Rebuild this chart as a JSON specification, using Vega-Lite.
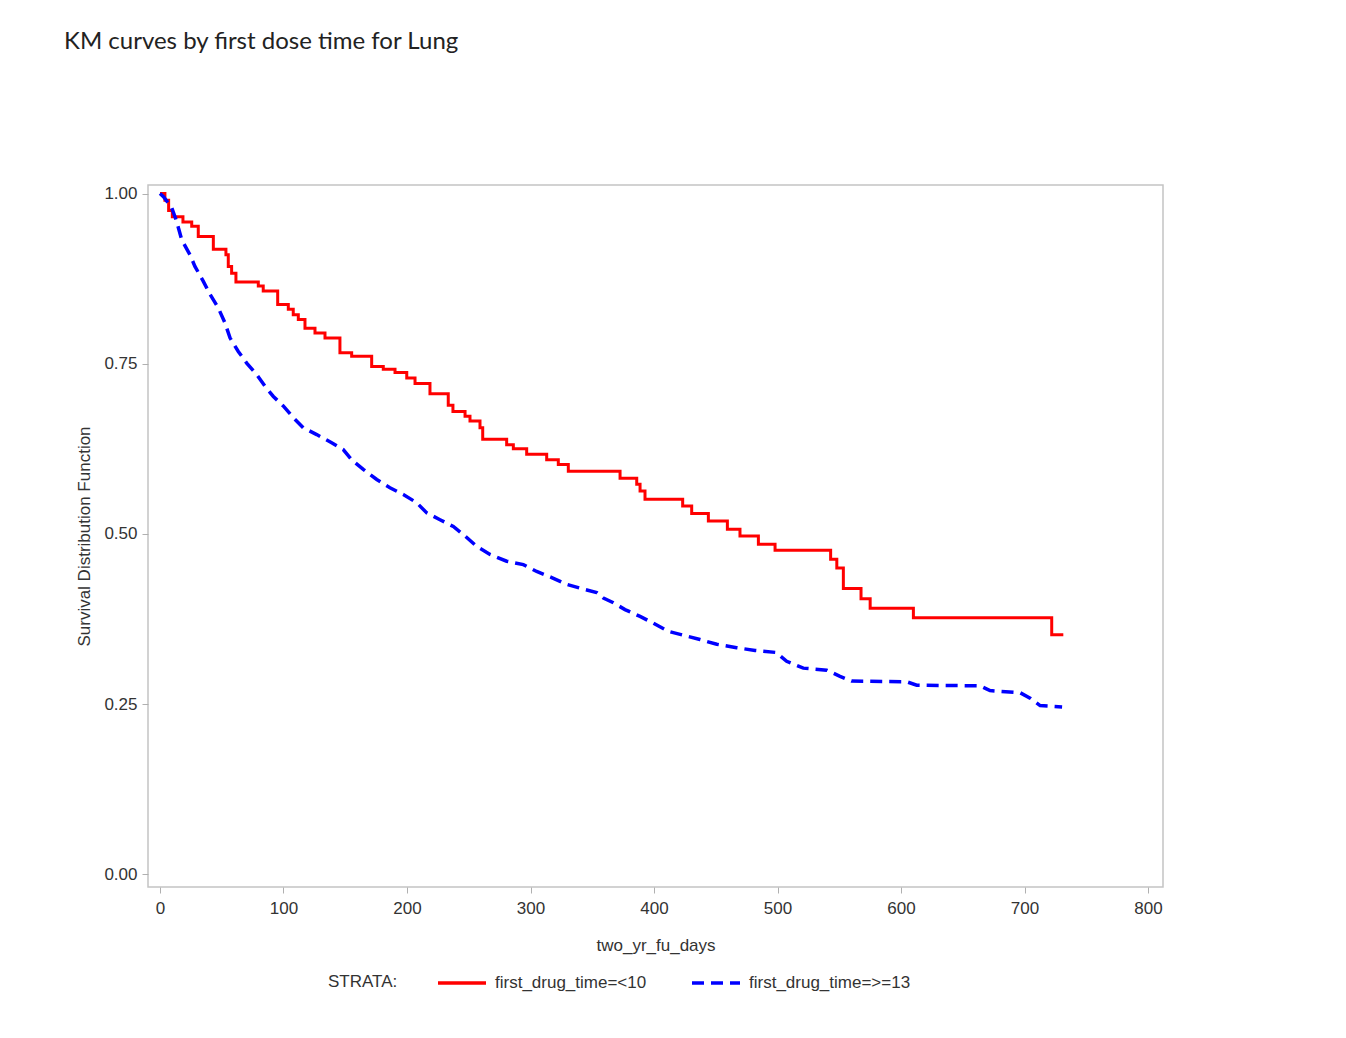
{
  "$schema": "https://vega.github.io/schema/vega-lite/v6.json",
  "width": 1015,
  "height": 702,
  "autosize": {"type": "none"},
  "padding": {"left": 148, "top": 185, "right": 183, "bottom": 151},
  "background": "white",
  "title": {
    "text": "KM curves by first dose time for Lung",
    "anchor": "start",
    "frame": "group",
    "dx": -84,
    "offset": 131,
    "font": "Lato",
    "fontSize": 24,
    "fontWeight": "normal",
    "color": "#222222"
  },
  "config": {
    "view": {"stroke": "#c4c4c4", "strokeWidth": 1.5},
    "axis": {
      "domain": false,
      "grid": false,
      "tickColor": "#b0b0b0",
      "tickSize": 6,
      "labelFont": "Liberation Sans",
      "labelFontSize": 17,
      "labelColor": "#333333",
      "titleFont": "Liberation Sans",
      "titleFontSize": 17,
      "titleFontWeight": "normal",
      "titleColor": "#333333"
    },
    "legend": {
      "labelFont": "Liberation Sans",
      "labelFontSize": 17,
      "labelColor": "#333333",
      "labelLimit": 400,
      "titleFont": "Liberation Sans",
      "titleFontSize": 17,
      "titleFontWeight": "normal",
      "titleColor": "#333333"
    }
  },
  "data": {
    "values": [
      {"strata": "first_drug_time=<10", "day": 0, "surv": 1.0},
      {"strata": "first_drug_time=<10", "day": 4, "surv": 0.99},
      {"strata": "first_drug_time=<10", "day": 7, "surv": 0.975},
      {"strata": "first_drug_time=<10", "day": 10, "surv": 0.966},
      {"strata": "first_drug_time=<10", "day": 18.6, "surv": 0.958},
      {"strata": "first_drug_time=<10", "day": 25.7, "surv": 0.952},
      {"strata": "first_drug_time=<10", "day": 31, "surv": 0.937},
      {"strata": "first_drug_time=<10", "day": 43.2, "surv": 0.918},
      {"strata": "first_drug_time=<10", "day": 53.4, "surv": 0.91},
      {"strata": "first_drug_time=<10", "day": 55.3, "surv": 0.893},
      {"strata": "first_drug_time=<10", "day": 58, "surv": 0.883},
      {"strata": "first_drug_time=<10", "day": 61.5, "surv": 0.87},
      {"strata": "first_drug_time=<10", "day": 79.6, "surv": 0.864},
      {"strata": "first_drug_time=<10", "day": 83.6, "surv": 0.857},
      {"strata": "first_drug_time=<10", "day": 95.3, "surv": 0.837},
      {"strata": "first_drug_time=<10", "day": 103.9, "surv": 0.83},
      {"strata": "first_drug_time=<10", "day": 107.9, "surv": 0.822},
      {"strata": "first_drug_time=<10", "day": 112, "surv": 0.815},
      {"strata": "first_drug_time=<10", "day": 117.4, "surv": 0.802},
      {"strata": "first_drug_time=<10", "day": 125.5, "surv": 0.795},
      {"strata": "first_drug_time=<10", "day": 133.6, "surv": 0.788},
      {"strata": "first_drug_time=<10", "day": 145.7, "surv": 0.766},
      {"strata": "first_drug_time=<10", "day": 155.2, "surv": 0.761},
      {"strata": "first_drug_time=<10", "day": 171.4, "surv": 0.746},
      {"strata": "first_drug_time=<10", "day": 180.8, "surv": 0.742},
      {"strata": "first_drug_time=<10", "day": 190.3, "surv": 0.737},
      {"strata": "first_drug_time=<10", "day": 199.8, "surv": 0.729},
      {"strata": "first_drug_time=<10", "day": 206.5, "surv": 0.721},
      {"strata": "first_drug_time=<10", "day": 218.6, "surv": 0.706},
      {"strata": "first_drug_time=<10", "day": 233.4, "surv": 0.689},
      {"strata": "first_drug_time=<10", "day": 237.2, "surv": 0.68},
      {"strata": "first_drug_time=<10", "day": 247, "surv": 0.673},
      {"strata": "first_drug_time=<10", "day": 251, "surv": 0.666},
      {"strata": "first_drug_time=<10", "day": 259.1, "surv": 0.656},
      {"strata": "first_drug_time=<10", "day": 261.3, "surv": 0.639},
      {"strata": "first_drug_time=<10", "day": 280.7, "surv": 0.631},
      {"strata": "first_drug_time=<10", "day": 286.1, "surv": 0.625},
      {"strata": "first_drug_time=<10", "day": 296.9, "surv": 0.617},
      {"strata": "first_drug_time=<10", "day": 313.1, "surv": 0.609},
      {"strata": "first_drug_time=<10", "day": 322.5, "surv": 0.602},
      {"strata": "first_drug_time=<10", "day": 330.6, "surv": 0.592},
      {"strata": "first_drug_time=<10", "day": 372.5, "surv": 0.582},
      {"strata": "first_drug_time=<10", "day": 386, "surv": 0.573},
      {"strata": "first_drug_time=<10", "day": 388.7, "surv": 0.563},
      {"strata": "first_drug_time=<10", "day": 392.7, "surv": 0.551},
      {"strata": "first_drug_time=<10", "day": 423.2, "surv": 0.541},
      {"strata": "first_drug_time=<10", "day": 430.5, "surv": 0.53},
      {"strata": "first_drug_time=<10", "day": 444, "surv": 0.519},
      {"strata": "first_drug_time=<10", "day": 459.4, "surv": 0.507},
      {"strata": "first_drug_time=<10", "day": 469.6, "surv": 0.497},
      {"strata": "first_drug_time=<10", "day": 484.5, "surv": 0.485},
      {"strata": "first_drug_time=<10", "day": 498, "surv": 0.476},
      {"strata": "first_drug_time=<10", "day": 543, "surv": 0.463},
      {"strata": "first_drug_time=<10", "day": 548, "surv": 0.45},
      {"strata": "first_drug_time=<10", "day": 553.3, "surv": 0.42},
      {"strata": "first_drug_time=<10", "day": 567.6, "surv": 0.405},
      {"strata": "first_drug_time=<10", "day": 575, "surv": 0.391},
      {"strata": "first_drug_time=<10", "day": 610, "surv": 0.377},
      {"strata": "first_drug_time=<10", "day": 722, "surv": 0.352},
      {"strata": "first_drug_time=<10", "day": 731.4, "surv": 0.352},
      {"strata": "first_drug_time=>=13", "day": 0, "surv": 1.0},
      {"strata": "first_drug_time=>=13", "day": 3, "surv": 0.995},
      {"strata": "first_drug_time=>=13", "day": 9.5, "surv": 0.979},
      {"strata": "first_drug_time=>=13", "day": 13.5, "surv": 0.959},
      {"strata": "first_drug_time=>=13", "day": 17.6, "surv": 0.932},
      {"strata": "first_drug_time=>=13", "day": 24.3, "surv": 0.91},
      {"strata": "first_drug_time=>=13", "day": 28.3, "surv": 0.893},
      {"strata": "first_drug_time=>=13", "day": 35.1, "surv": 0.871},
      {"strata": "first_drug_time=>=13", "day": 40.5, "surv": 0.852},
      {"strata": "first_drug_time=>=13", "day": 47.2, "surv": 0.832},
      {"strata": "first_drug_time=>=13", "day": 52.6, "surv": 0.81},
      {"strata": "first_drug_time=>=13", "day": 56.7, "surv": 0.788},
      {"strata": "first_drug_time=>=13", "day": 63.4, "surv": 0.768},
      {"strata": "first_drug_time=>=13", "day": 70.2, "surv": 0.751},
      {"strata": "first_drug_time=>=13", "day": 78.3, "surv": 0.734},
      {"strata": "first_drug_time=>=13", "day": 85, "surv": 0.717},
      {"strata": "first_drug_time=>=13", "day": 91.8, "surv": 0.702},
      {"strata": "first_drug_time=>=13", "day": 99.8, "surv": 0.688},
      {"strata": "first_drug_time=>=13", "day": 107.9, "surv": 0.671},
      {"strata": "first_drug_time=>=13", "day": 116, "surv": 0.656},
      {"strata": "first_drug_time=>=13", "day": 126.9, "surv": 0.646},
      {"strata": "first_drug_time=>=13", "day": 139, "surv": 0.634},
      {"strata": "first_drug_time=>=13", "day": 148.4, "surv": 0.624},
      {"strata": "first_drug_time=>=13", "day": 155.2, "surv": 0.609},
      {"strata": "first_drug_time=>=13", "day": 164.6, "surv": 0.595},
      {"strata": "first_drug_time=>=13", "day": 175.5, "surv": 0.58},
      {"strata": "first_drug_time=>=13", "day": 186.2, "surv": 0.568},
      {"strata": "first_drug_time=>=13", "day": 197, "surv": 0.558},
      {"strata": "first_drug_time=>=13", "day": 207.8, "surv": 0.546},
      {"strata": "first_drug_time=>=13", "day": 216, "surv": 0.531},
      {"strata": "first_drug_time=>=13", "day": 226.7, "surv": 0.521},
      {"strata": "first_drug_time=>=13", "day": 237.5, "surv": 0.511},
      {"strata": "first_drug_time=>=13", "day": 247, "surv": 0.497},
      {"strata": "first_drug_time=>=13", "day": 256.4, "surv": 0.482},
      {"strata": "first_drug_time=>=13", "day": 267.2, "surv": 0.47},
      {"strata": "first_drug_time=>=13", "day": 280.7, "surv": 0.46},
      {"strata": "first_drug_time=>=13", "day": 294.2, "surv": 0.455},
      {"strata": "first_drug_time=>=13", "day": 305, "surv": 0.445},
      {"strata": "first_drug_time=>=13", "day": 317.2, "surv": 0.436},
      {"strata": "first_drug_time=>=13", "day": 329.3, "surv": 0.426},
      {"strata": "first_drug_time=>=13", "day": 342.8, "surv": 0.419},
      {"strata": "first_drug_time=>=13", "day": 353.6, "surv": 0.414},
      {"strata": "first_drug_time=>=13", "day": 359, "surv": 0.406},
      {"strata": "first_drug_time=>=13", "day": 367.1, "surv": 0.399},
      {"strata": "first_drug_time=>=13", "day": 376.5, "surv": 0.389},
      {"strata": "first_drug_time=>=13", "day": 388.7, "surv": 0.379},
      {"strata": "first_drug_time=>=13", "day": 399.4, "surv": 0.369},
      {"strata": "first_drug_time=>=13", "day": 411.6, "surv": 0.357},
      {"strata": "first_drug_time=>=13", "day": 426.5, "surv": 0.35},
      {"strata": "first_drug_time=>=13", "day": 437.2, "surv": 0.345},
      {"strata": "first_drug_time=>=13", "day": 450.8, "surv": 0.338},
      {"strata": "first_drug_time=>=13", "day": 466.9, "surv": 0.333},
      {"strata": "first_drug_time=>=13", "day": 481.8, "surv": 0.329},
      {"strata": "first_drug_time=>=13", "day": 499, "surv": 0.326},
      {"strata": "first_drug_time=>=13", "day": 507.4, "surv": 0.313},
      {"strata": "first_drug_time=>=13", "day": 520.9, "surv": 0.303},
      {"strata": "first_drug_time=>=13", "day": 539.8, "surv": 0.3},
      {"strata": "first_drug_time=>=13", "day": 550.6, "surv": 0.291},
      {"strata": "first_drug_time=>=13", "day": 560, "surv": 0.284},
      {"strata": "first_drug_time=>=13", "day": 604.6, "surv": 0.283},
      {"strata": "first_drug_time=>=13", "day": 612.7, "surv": 0.278},
      {"strata": "first_drug_time=>=13", "day": 664, "surv": 0.277},
      {"strata": "first_drug_time=>=13", "day": 672, "surv": 0.27},
      {"strata": "first_drug_time=>=13", "day": 696.4, "surv": 0.267},
      {"strata": "first_drug_time=>=13", "day": 704.5, "surv": 0.259},
      {"strata": "first_drug_time=>=13", "day": 712.6, "surv": 0.248},
      {"strata": "first_drug_time=>=13", "day": 730.4, "surv": 0.246}
    ]
  },
  "encoding": {
    "x": {
      "field": "day",
      "type": "quantitative",
      "scale": {"domain": [-9.7, 812.1], "nice": false, "zero": false},
      "axis": {"values": [0, 100, 200, 300, 400, 500, 600, 700, 800], "title": "two_yr_fu_days", "labelPadding": 7, "titlePadding": 21}
    },
    "y": {
      "field": "surv",
      "type": "quantitative",
      "scale": {"domain": [-0.0184, 1.0125], "nice": false, "zero": false},
      "axis": {"values": [0, 0.25, 0.5, 0.75, 1], "format": ".2f", "title": "Survival Distribution Function", "labelPadding": 5, "titlePadding": 10}
    },
    "color": {
      "field": "strata",
      "type": "nominal",
      "scale": {"domain": ["first_drug_time=<10", "first_drug_time=>=13"], "range": ["#ff0000", "#0000ff"]},
      "legend": {
        "title": "STRATA:",
        "orient": "none",
        "legendX": 180,
        "legendY": 772,
        "direction": "horizontal",
        "titleOrient": "left",
        "titleAnchor": "middle",
        "titleBaseline": "top",
        "titlePadding": 38,
        "symbolType": "stroke",
        "symbolSize": 2304,
        "symbolStrokeWidth": 3.5,
        "labelOffset": 7,
        "columnPadding": 38
      }
    },
    "strokeDash": {
      "field": "strata",
      "type": "nominal",
      "scale": {"domain": ["first_drug_time=<10", "first_drug_time=>=13"], "range": [[1, 0], [12, 7]]},
      "legend": {
        "title": "STRATA:",
        "orient": "none",
        "legendX": 180,
        "legendY": 772,
        "direction": "horizontal",
        "titleOrient": "left",
        "titleAnchor": "middle",
        "titleBaseline": "top",
        "titlePadding": 38,
        "symbolType": "stroke",
        "symbolSize": 2304,
        "symbolStrokeWidth": 3.5,
        "labelOffset": 7,
        "columnPadding": 38
      }
    }
  },
  "layer": [
    {
      "transform": [{"filter": "datum.strata === 'first_drug_time=<10'"}],
      "mark": {"type": "line", "interpolate": "step-after", "strokeWidth": 3}
    },
    {
      "transform": [{"filter": "datum.strata === 'first_drug_time=>=13'"}],
      "mark": {"type": "line", "interpolate": "linear", "strokeWidth": 3.5}
    }
  ]
}
